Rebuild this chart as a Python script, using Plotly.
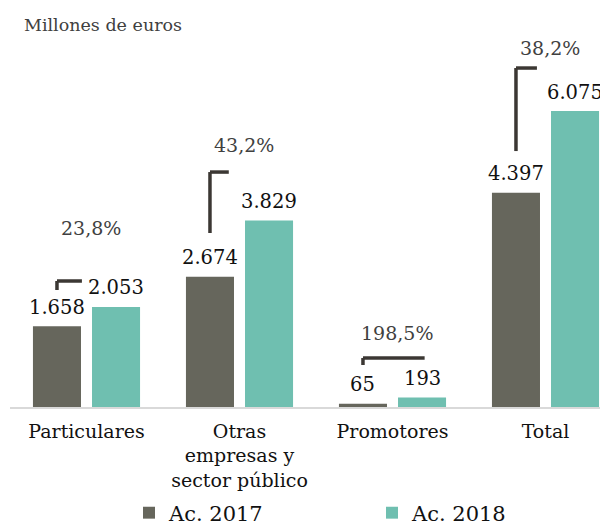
import plotly.graph_objects as go

# ---- data ----
categories = ["Particulares", "Otras<br>empresas y<br>sector público", "Promotores", "Total"]
ac_2017 = [1658, 2674, 65, 4397]
ac_2018 = [2053, 3829, 193, 6075]
value_labels_2017 = ["1.658", "2.674", "65", "4.397"]
value_labels_2018 = ["2.053", "3.829", "193", "6.075"]
pct_labels = ["23,8%", "43,2%", "198,5%", "38,2%"]
series_names = ["Ac. 2017", "Ac. 2018"]

# ---- annotation geometry (data units, not data) ----
pct_y = [3673, 5377, 1519, 7367]
bracket_top = [2586, 4822, 1005, 6957]
bracket_bottom = [2401, 3571, 862, 5253]
bracket_right = [-0.03, -0.07, 0.21, -0.056]

# ---- style ----
C17 = "#66665c"
C18 = "#6fbfb0"
FONT = "DejaVu Serif"
BAR_W = 0.314
OFF17 = -0.35
OFF18 = 0.036
C17_CENTER = OFF17 + BAR_W / 2
C18_CENTER = OFF18 + BAR_W / 2

idx = list(range(len(categories)))

fig = go.Figure()
fig.add_trace(go.Bar(x=idx, y=ac_2017, name=series_names[0], marker_color=C17,
                     width=BAR_W, offset=OFF17, marker_line_width=0))
fig.add_trace(go.Bar(x=idx, y=ac_2018, name=series_names[1], marker_color=C18,
                     width=BAR_W, offset=OFF18, marker_line_width=0))

ann = []
for i in idx:
    ann.append(dict(x=i + C17_CENTER, y=ac_2017[i], text=value_labels_2017[i], showarrow=False,
                    xref="x", yref="y", yanchor="middle", yshift=19,
                    font=dict(family=FONT, size=19.5, color="#111111")))
    ann.append(dict(x=i + C18_CENTER, y=ac_2018[i], text=value_labels_2018[i], showarrow=False,
                    xref="x", yref="y", yanchor="middle", yshift=19,
                    font=dict(family=FONT, size=19.5, color="#111111")))
    ann.append(dict(x=i + 0.03, y=pct_y[i], text=pct_labels[i], showarrow=False,
                    xref="x", yref="y", yanchor="middle",
                    font=dict(family=FONT, size=19, color="#404040")))
ann.append(dict(x=(22 - 10) / 598, y=1 + (40 - 25) / 367, xref="paper", yref="paper",
                text="Millones de euros", showarrow=False,
                xanchor="left", yanchor="middle",
                font=dict(family=FONT, size=17.5, color="#404040")))

shapes = []
for i in idx:
    xl = i + C17_CENTER
    shapes.append(dict(type="line", xref="x", yref="y", x0=xl, x1=xl,
                       y0=bracket_bottom[i], y1=bracket_top[i],
                       line=dict(color="#3b3733", width=3.5)))
    shapes.append(dict(type="line", xref="x", yref="y", x0=xl, x1=i + bracket_right[i],
                       y0=bracket_top[i], y1=bracket_top[i],
                       line=dict(color="#3b3733", width=3.5)))

fig.update_layout(
    width=600, height=519,
    margin=dict(l=2, r=0, t=32, b=120, autoexpand=False),
    barmode="overlay",
    plot_bgcolor="white", paper_bgcolor="white",
    font=dict(family=FONT, color="#111111"),
    annotations=ann, shapes=shapes,
    showlegend=True,
    legend=dict(orientation="h", x=(129 - 10) / 598, xanchor="left",
                y=-(513 - 407) / 367, yanchor="middle",
                font=dict(family=FONT, size=21, color="#111111"),
                entrywidth=198, traceorder="normal", itemclick=False),
    xaxis=dict(range=[-0.5, -0.5 + 598 / 153], tickmode="array", tickvals=idx,
               ticktext=categories, showgrid=False, zeroline=False,
               showline=True, linecolor="#d9d9d9", linewidth=1.5,
               tickfont=dict(family=FONT, size=19, color="#111111"), ticks="",
               ticklabelstandoff=6),
    yaxis=dict(range=[0, 367 / 0.048724], visible=False, showgrid=False, zeroline=False),
)

fig.write_html("out.html")
